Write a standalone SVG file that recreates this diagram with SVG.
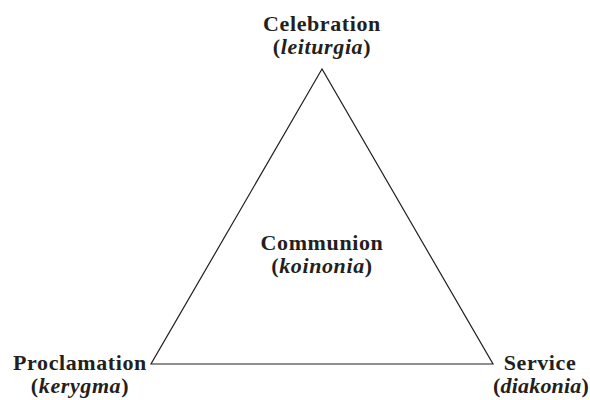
<svg xmlns="http://www.w3.org/2000/svg" width="590" height="400" viewBox="0 0 590 400">
<style>
text{font-family:"Liberation Serif","DejaVu Serif",serif;font-size:22px;letter-spacing:0.6px;fill:#231f20;text-anchor:middle;font-weight:bold}
.i{font-style:italic}
.edge{fill:none;stroke:#231f20;stroke-width:1.2}
</style>
<rect width="590" height="400" fill="#fff"/>
<g id="connectors">
<polygon class="edge" points="322,69 151,364 493,364"/>
</g>
<g id="celebration"><text x="322" y="31">Celebration</text><text x="322" y="54">(<tspan class="i">leiturgia</tspan>)</text></g>
<g id="communion"><text x="322" y="250">Communion</text><text x="322" y="273">(<tspan class="i">koinonia</tspan>)</text></g>
<g id="proclamation"><text x="80" y="370">Proclamation</text><text x="80" y="393">(<tspan class="i">kerygma</tspan>)</text></g>
<g id="service"><text x="540" y="370">Service</text><text x="541" y="393" style="letter-spacing:0.2px">(<tspan class="i">diakonia</tspan>)</text></g>
</svg>
